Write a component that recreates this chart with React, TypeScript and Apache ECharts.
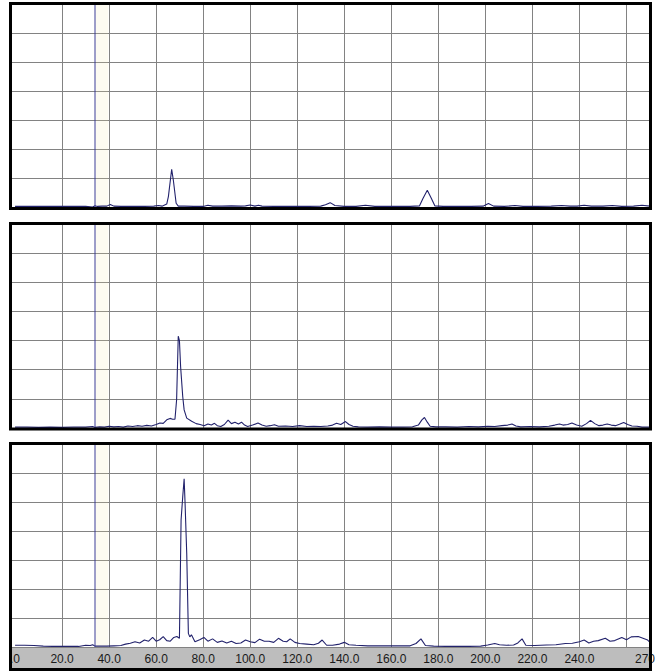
import React, { useEffect, useRef } from "react";
import * as echarts from "echarts";

// x positions (data units) and intensities (in grid rows) for each panel
const panelTop: number[][] = [
  [0, 0.02], [5, 0.02], [10, 0.02], [15, 0.02], [20, 0.02], [25, 0.02], [30, 0.02], [33, 0.0], [34, 0.04], [35, 0.02],
  [37, 0.03], [39, 0.03], [40.5, 0.09], [42, 0.03], [45, 0.02], [50, 0.02], [55, 0.02], [59, 0.03], [61, 0.05], [62.5, 0.03],
  [64.5, 0.1], [65.2, 0.36], [66.6, 1.3], [67.3, 0.93], [68.5, 0.13], [69.4, 0.03], [72, 0.03], [76, 0.02], [80, 0.02], [82, 0.06],
  [84, 0.03], [88, 0.03], [92, 0.04], [96, 0.03], [98, 0.04], [100, 0.07], [102, 0.03], [103.5, 0.06], [105, 0.03], [110, 0.02],
  [115, 0.02], [120, 0.02], [125, 0.02], [130, 0.03], [132, 0.08], [134, 0.15], [136, 0.05], [140, 0.02], [145, 0.02], [149, 0.06],
  [153, 0.02], [158, 0.02], [163, 0.02], [168, 0.02], [172, 0.04], [173.5, 0.3], [175.3, 0.58], [177, 0.3], [178.5, 0.04], [182, 0.02],
  [188, 0.02], [194, 0.02], [199, 0.03], [201.3, 0.12], [203.5, 0.03], [208, 0.02], [212.6, 0.05], [216, 0.02], [222, 0.02], [228, 0.03],
  [232.4, 0.05], [236, 0.03], [239, 0.03], [242, 0.06], [245, 0.03], [250, 0.03], [254, 0.05], [258, 0.02], [263, 0.03], [266.6, 0.06], [270, 0.03],
];

const panelMiddle: number[][] = [
  [0, 0.03], [5, 0.03], [10, 0.02], [15, 0.03], [20, 0.02], [25, 0.03], [30, 0.03], [33, 0.05], [34, 0.02], [36, 0.04],
  [38, 0.03], [40, 0.06], [42, 0.04], [44, 0.05], [46, 0.03], [48, 0.07], [50, 0.05], [52, 0.08], [54, 0.06], [56, 0.09],
  [58, 0.07], [60, 0.12], [61.6, 0.17], [63, 0.16], [64.5, 0.28], [65.9, 0.33], [67, 0.3], [68, 0.3], [68.7, 0.97], [69.4, 3.15],
  [69.9, 3.0], [70.4, 2.1], [71.3, 1.08], [71.9, 0.62], [73, 0.34], [75.1, 0.23], [77, 0.15], [78.7, 0.12], [80.4, 0.08], [82, 0.14],
  [83.5, 0.1], [84.8, 0.16], [86, 0.08], [87.5, 0.05], [89, 0.12], [90.6, 0.27], [92, 0.15], [93.5, 0.2], [95, 0.14], [96.3, 0.2],
  [97.6, 0.1], [98.9, 0.05], [101, 0.1], [103.3, 0.17], [105, 0.1], [106.8, 0.06], [108.5, 0.08], [110.3, 0.11], [112, 0.06], [115, 0.07],
  [118, 0.05], [121, 0.08], [124, 0.05], [127, 0.06], [130, 0.05], [133, 0.07], [135, 0.1], [136.7, 0.16], [138.5, 0.12], [140.5, 0.22],
  [142, 0.12], [143.7, 0.06], [146, 0.04], [150, 0.03], [155, 0.04], [160, 0.03], [165, 0.03], [169, 0.04], [171.5, 0.1], [173, 0.28],
  [174.1, 0.36], [175.3, 0.2], [176.5, 0.06], [179, 0.04], [183, 0.04], [188, 0.03], [193, 0.05], [197, 0.04], [201, 0.06], [204, 0.05],
  [207, 0.08], [209.5, 0.1], [211.3, 0.14], [213, 0.07], [215, 0.04], [219, 0.05], [223, 0.04], [227, 0.06], [229.5, 0.1], [231.5, 0.14],
  [233, 0.1], [235, 0.12], [236.8, 0.17], [238.8, 0.1], [241, 0.06], [243, 0.15], [244.7, 0.26], [246.5, 0.15], [248.3, 0.08], [250, 0.1],
  [251.8, 0.14], [253.5, 0.1], [255.3, 0.08], [257, 0.13], [258.8, 0.19], [260.5, 0.12], [262.3, 0.07], [264.5, 0.06], [266.6, 0.03], [270, 0.03],
];

const panelBottom: number[][] = [
  [0, 0.06], [4, 0.06], [8, 0.05], [12, 0.03], [16, 0.02], [20, 0.02], [24, 0.02], [27, 0.02], [30, 0.06], [32, 0.05],
  [33, 0.08], [34, 0.03], [36, 0.03], [39, 0.03], [42, 0.04], [45, 0.05], [47, 0.1], [49, 0.13], [51, 0.18], [53, 0.14],
  [55, 0.24], [56.8, 0.2], [58.5, 0.33], [60, 0.2], [61.5, 0.25], [63, 0.36], [64.5, 0.22], [66, 0.2], [67.5, 0.33], [68.8, 0.36],
  [69.9, 0.3], [70.6, 4.38], [71.3, 5.18], [71.9, 5.8], [72.3, 4.95], [73, 3.23], [73.7, 0.47], [74.3, 0.35], [75, 0.42], [76.5, 0.18],
  [78.5, 0.25], [80.3, 0.33], [82, 0.2], [84, 0.28], [86, 0.16], [88, 0.21], [90, 0.14], [92, 0.2], [94, 0.12], [96, 0.14],
  [98, 0.24], [100, 0.18], [102, 0.15], [104, 0.27], [106, 0.2], [108, 0.2], [110, 0.16], [112, 0.3], [114, 0.2], [115.5, 0.18],
  [117, 0.28], [119, 0.16], [121, 0.12], [124, 0.1], [127, 0.08], [129, 0.13], [130.6, 0.24], [132.5, 0.06], [135, 0.06], [138, 0.1],
  [140, 0.16], [142, 0.08], [145, 0.06], [150, 0.04], [155, 0.04], [160, 0.04], [165, 0.04], [168, 0.04], [170.5, 0.12], [172.6, 0.28],
  [174.5, 0.05], [178, 0.03], [183, 0.02], [188, 0.02], [193, 0.02], [198, 0.03], [201, 0.07], [204, 0.12], [206, 0.08], [209, 0.06],
  [212, 0.07], [213.8, 0.14], [215.6, 0.28], [217.2, 0.06], [221, 0.05], [226, 0.07], [230, 0.08], [234, 0.12], [237, 0.13], [240, 0.18],
  [242, 0.24], [244, 0.14], [246, 0.2], [248, 0.22], [251, 0.3], [253, 0.2], [255, 0.22], [258, 0.33], [260, 0.25], [262, 0.35],
  [265, 0.36], [267, 0.3], [269, 0.24], [270, 0.16],
];

const gridTicks = [20, 40, 60, 80, 100, 120, 140, 160, 180, 200, 220, 240, 260];
const labelTicks = [0, 20, 40, 60, 80, 100, 120, 140, 160, 180, 200, 220, 240, 270];
const markerX = 34;
const bandRange = [34.3, 39.6];

const X_MIN = -1.3;
const X_MAX = 270;
const Y_MAX = 7;

const grids = [
  { left: 12, top: 4, width: 638, height: 203 },
  { left: 12, top: 224, width: 638, height: 204 },
  { left: 12, top: 444, width: 638, height: 203 },
];

const GRID_COLOR = "#828282";
const LABEL_FONT = '"Liberation Sans Narrow", "Arial Narrow", "Liberation Sans", Arial, sans-serif';

export default function App() {
  const ref = useRef<HTMLDivElement>(null);

  useEffect(() => {
    if (!ref.current) return;
    const chart = echarts.init(ref.current, undefined, { renderer: "svg" });
    const panels = [panelTop, panelMiddle, panelBottom];

    const dataSeries = panels.map((data, i) => ({
      type: "line",
      xAxisIndex: i,
      yAxisIndex: i,
      data,
      symbol: "none",
      showSymbol: false,
      z: 3,
      lineStyle: { color: "#22226c", width: 1.1 },
      markArea: {
        silent: true,
        z: 1,
        itemStyle: { color: "rgba(240, 228, 170, 0.16)" },
        data: [[{ xAxis: bandRange[0] }, { xAxis: bandRange[1] }]],
      },
    }));

    const markerSeries = panels.map((_, i) => ({
      type: "line",
      xAxisIndex: i,
      yAxisIndex: i,
      data: [
        [markerX, 0],
        [markerX, Y_MAX],
      ],
      symbol: "none",
      showSymbol: false,
      silent: true,
      z: 4,
      lineStyle: { color: "#3c3c94", width: 1 },
    }));

    const option: any = {
      animation: false,
      backgroundColor: "#ffffff",
      grid: grids.map((g) => ({ ...g, containLabel: false, outerBoundsMode: "none", show: false })),
      xAxis: grids.map((_, i) => ({
        type: "value",
        gridIndex: i,
        min: X_MIN,
        max: X_MAX,
        axisLine: { show: false },
        axisTick: { show: false, customValues: gridTicks },
        splitLine: { show: true, lineStyle: { color: GRID_COLOR, width: 1 } },
        axisLabel: {
          show: i === 2,
          customValues: labelTicks,
          formatter: (v: number) => (Number(v) === 0 ? "{first|0.0}" : Number(v).toFixed(1)),
          margin: 6,
          fontSize: 12,
          color: "#1a1a1a",
          fontFamily: LABEL_FONT,
          rich: {
            first: {
              fontSize: 12,
              color: "#1a1a1a",
              fontFamily: LABEL_FONT,
              padding: [0, 7, 0, 0],
            },
          },
        },
      })),
      yAxis: grids.map((_, i) => ({
        type: "value",
        gridIndex: i,
        min: 0,
        max: Y_MAX,
        interval: 1,
        axisLine: { show: false },
        axisTick: { show: false },
        axisLabel: { show: false },
        splitLine: { show: true, lineStyle: { color: GRID_COLOR, width: 1 } },
      })),
      series: [...dataSeries, ...markerSeries],
      graphic: [
        {
          type: "rect",
          z: -1,
          shape: { x: 12, y: 648, width: 638, height: 21 },
          style: { fill: "#bdbdbd" },
        },
        {
          type: "rect",
          z: 99,
          shape: { x: 0, y: 640, width: 9.5, height: 31 },
          style: { fill: "#ffffff" },
        },
        {
          type: "rect",
          z: 100,
          shape: { x: 10.5, y: 3.5, width: 640, height: 205 },
          style: { fill: "none", stroke: "#000", lineWidth: 3 },
        },
        {
          type: "rect",
          z: 100,
          shape: { x: 10.5, y: 223.5, width: 640, height: 205.5 },
          style: { fill: "none", stroke: "#000", lineWidth: 3 },
        },
        {
          type: "rect",
          z: 100,
          shape: { x: 10.5, y: 443.5, width: 640, height: 226 },
          style: { fill: "none", stroke: "#000", lineWidth: 3 },
        },
      ],
    };

    chart.setOption(option);
    return () => chart.dispose();
  }, []);

  return (
    <div
      ref={ref}
      style={{ position: "absolute", left: 0, top: 0, width: 655, height: 671, background: "#fff" }}
    />
  );
}
